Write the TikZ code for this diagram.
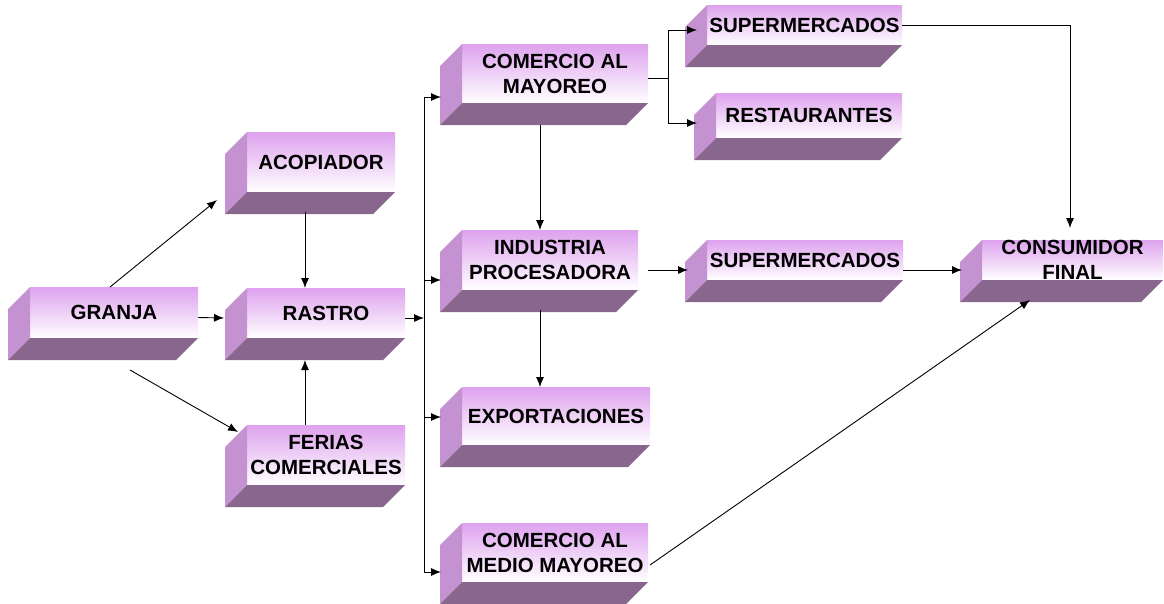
\documentclass[tikz,border=0pt]{standalone}
\usepackage{fontspec}
\setmainfont{Liberation Sans}
\usetikzlibrary{arrows.meta}
\definecolor{frente}{RGB}{222,162,238}
\definecolor{lado}{RGB}{196,146,208}
\definecolor{fondo}{RGB}{136,102,142}
\tikzset{
  caja/.style n args={3}{shade, top color=frente, bottom color=white,
    minimum width=#1, minimum height=#2, inner sep=0pt, outer sep=0pt,
    label={[texto]center:#3}},
  texto/.style={align=center, font=\fontsize{20.5}{25}\selectfont\bfseries, text=black},
  flecha/.style={-{Latex[length=10pt,width=8pt]}, line width=0.9pt},
  linea/.style={line width=0.9pt}
}
\begin{document}
\begin{tikzpicture}[x=1pt,y=-1pt]
\useasboundingbox (0,0) rectangle (1164,603);

\node (granja) at (114,312.5) [caja={168}{51}{GRANJA}] {};
\node (acopiador) at (321,162) [caja={148}{60}{ACOPIADOR}] {};
\node (rastro) at (326,313) [caja={158}{50}{RASTRO}] {};
\node (ferias) at (326,455) [caja={158}{60}{FERIAS\\COMERCIALES}] {};
\node (mayoreo) at (555,73.5) [caja={186}{59}{COMERCIO AL\\MAYOREO}] {};
\node (industria) at (550,260) [caja={176}{60}{INDUSTRIA\\PROCESADORA}] {};
\node (exportaciones) at (556,416) [caja={188}{58}{EXPORTACIONES}] {};
\node (medio) at (555,552.5) [caja={186}{59}{COMERCIO AL\\MEDIO MAYOREO}] {};
\node (super1) at (804.5,25) [caja={195}{40}{SUPERMERCADOS}] {};
\node (restaurantes) at (809,115.5) [caja={186}{45}{RESTAURANTES}] {};
\node (super2) at (805,260) [caja={196}{40}{SUPERMERCADOS}] {};
\node (consumidor) at (1072.5,260) [caja={181}{40}{CONSUMIDOR\\FINAL}] {};

% caras laterales e inferiores
\foreach \n in {granja,acopiador,rastro,ferias,mayoreo,industria,exportaciones,medio,super1,restaurantes,super2,consumidor}
{
    \fill[lado] (\n.north west) ++(-22,22) -- (\n.north west) -- (\n.south west) -- ++(-22,22) -- cycle;
    \fill[fondo] (\n.south east) ++(-22,22) -- (\n.south east) -- (\n.south west) -- ++(-22,22) -- cycle;
}

\draw[flecha] ([xshift=-4pt]granja.north) -- ([xshift=-30pt,yshift=-38pt]acopiador.west);
\draw[flecha] ([yshift=-5pt]granja.east) -- ([xshift=-23pt,yshift=-5pt]rastro.west);
\draw[flecha] ([xshift=16pt,yshift=-32pt]granja.south) -- ([xshift=-9pt,yshift=23pt]ferias.west);
\draw[flecha] ([xshift=-16pt,yshift=-20pt]acopiador.south) -- ([xshift=-21pt]rastro.north);
\draw[flecha] ([xshift=-21pt]ferias.north) -- ([xshift=-21pt,yshift=-22pt]rastro.south);

\coordinate (bus) at (424,318);
\draw[flecha] ([yshift=-5pt]rastro.east) -- (bus);
\foreach \n/\dy in {mayoreo/-23.5,industria/-20,exportaciones/-1,medio/-19.5}
{
    \coordinate (e\n) at ([xshift=-21pt,yshift=\dy pt]\n.west);
    \draw[flecha] (bus |- e\n) -- (e\n);
}
\draw[linea] (bus |- emayoreo) -- (bus |- emedio);

\draw[flecha] ([xshift=-15pt,yshift=-22pt]mayoreo.south) -- ([xshift=-10pt]industria.north);
\draw[flecha] ([xshift=-10pt,yshift=-20pt]industria.south) -- ([xshift=-16pt]exportaciones.north);

\coordinate (split) at (668,78);
\draw[linea] ([yshift=-4.5pt]mayoreo.east) -- (split);
\draw[flecha] (split) |- ([xshift=-10pt,yshift=-5pt]super1.west);
\draw[flecha] (split) |- ([xshift=-19pt,yshift=-7.5pt]restaurantes.west);

\draw[flecha] (super1.east) -| ([xshift=-2.5pt,yshift=12pt]consumidor.north);
\draw[flecha] ([xshift=10pt,yshift=-10pt]industria.east) -- ([xshift=-19pt,yshift=-10pt]super2.west);
\draw[flecha] ([yshift=-10pt]super2.east) -- ([xshift=-20pt,yshift=-10pt]consumidor.west);
\draw[flecha] ([xshift=2pt,yshift=-12.5pt]medio.east) -- ([xshift=-42.5pt,yshift=-20pt]consumidor.south);

\end{tikzpicture}
\end{document}
